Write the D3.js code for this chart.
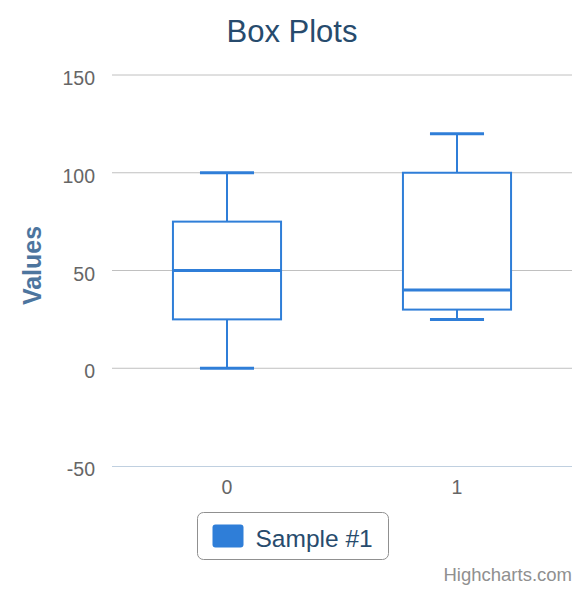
<!DOCTYPE html>
<html>
<head>
<meta charset="utf-8">
<script src="https://cdn.jsdelivr.net/npm/d3@7"></script>
<style>
  body { margin: 0; background: #fff; }
  svg { font-family: "Liberation Sans", Arial, sans-serif; }
</style>
</head>
<body>
<div id="chart"></div>
<script>
const categories = ["0", "1"];
const lows = [0, 25];
const q1s = [25, 30];
const medians = [50, 40];
const q3s = [75, 100];
const highs = [100, 120];
const yTicks = [-50, 0, 50, 100, 150];
const seriesName = "Sample #1";

const width = 581,
height = 592,
margin = { top: 75, right: 9, bottom: 126, left: 112 },
color = "#2f7ed8";

const svg = d3.select('#chart').append('svg')
    .attr('width', width)
    .attr('height', height);

const x = d3.scaleBand()
    .domain(categories)
    .range([margin.left, width - margin.right]);

const y = d3.scaleLinear()
    .domain([-50, 150])
    .range([height - margin.bottom, margin.top]);

// title
svg.append('text')
    .attr('x', 292)
    .attr('y', 42)
    .attr('text-anchor', 'middle')
    .attr('fill', '#274b6d')
    .attr('font-size', '31px')
    .text('Box Plots');

// grid lines
svg.append('g')
    .selectAll('line')
    .data(yTicks.slice(1))
    .enter()
    .append('line')
    .attr('x1', margin.left)
    .attr('x2', width - margin.right)
    .attr('y1', d => y(d))
    .attr('y2', d => y(d))
    .attr('stroke', '#c0c0c0')
    .attr('stroke-width', 1);

// y tick labels
svg.append('g')
    .selectAll('text')
    .data(yTicks)
    .enter()
    .append('text')
    .attr('x', margin.left - 17)
    .attr('y', d => y(d) + 10)
    .attr('text-anchor', 'end')
    .attr('fill', '#666')
    .attr('font-size', '19.5px')
    .text(d => d);

// y axis title
svg.append('text')
    .attr('transform', 'translate(41,' + (y(50) - 5) + ') rotate(-90)')
    .attr('text-anchor', 'middle')
    .attr('fill', '#4d759e')
    .attr('font-weight', 'bold')
    .attr('font-size', '25px')
    .text('Values');

// x axis line and labels
svg.append('line')
    .attr('x1', margin.left)
    .attr('x2', width - margin.right)
    .attr('y1', y(-50) + 0.5)
    .attr('y2', y(-50) + 0.5)
    .attr('stroke', '#c0d0e0');

svg.append('g')
    .selectAll('text')
    .data(categories)
    .enter()
    .append('text')
    .attr('x', d => x(d) + x.bandwidth() / 2)
    .attr('y', y(-50) + 28)
    .attr('text-anchor', 'middle')
    .attr('fill', '#666')
    .attr('font-size', '19.5px')
    .text(d => d);

// boxes
const boxW = x.bandwidth() * 0.47,
capW = boxW / 2;

const boxes = svg.append('g')
    .selectAll('g')
    .data(categories.map((c, i) => ({ c, low: lows[i], q1: q1s[i], med: medians[i], q3: q3s[i], high: highs[i] })))
    .enter()
    .append('g')
    .attr('transform', d => 'translate(' + (x(d.c) + x.bandwidth() / 2) + ',0)');

// stems
boxes.append('line')
    .attr('x1', 0).attr('x2', 0)
    .attr('y1', d => y(d.high)).attr('y2', d => y(d.q3))
    .attr('stroke', color).attr('stroke-width', 2);
boxes.append('line')
    .attr('x1', 0).attr('x2', 0)
    .attr('y1', d => y(d.q1)).attr('y2', d => y(d.low))
    .attr('stroke', color).attr('stroke-width', 2);

boxes.append('rect')
    .attr('x', -boxW / 2)
    .attr('y', d => y(d.q3))
    .attr('width', boxW)
    .attr('height', d => y(d.q1) - y(d.q3))
    .attr('fill', '#fff')
    .attr('stroke', color)
    .attr('stroke-width', 2);

// whisker caps
boxes.selectAll('.cap')
    .data(d => [d.low, d.high])
    .enter()
    .append('line')
    .attr('class', 'cap')
    .attr('x1', -capW / 2).attr('x2', capW / 2)
    .attr('y1', d => y(d)).attr('y2', d => y(d))
    .attr('stroke', color).attr('stroke-width', 3);

// median
boxes.append('line')
    .attr('x1', -boxW / 2).attr('x2', boxW / 2)
    .attr('y1', d => y(d.med)).attr('y2', d => y(d.med))
    .attr('stroke', color).attr('stroke-width', 3);

// legend
const legend = svg.append('g').attr('transform', 'translate(197.5,512.5)');
legend.append('rect')
    .attr('width', 191).attr('height', 47)
    .attr('rx', 6)
    .attr('fill', '#fff')
    .attr('stroke', '#909090');
legend.append('rect')
    .attr('x', 15).attr('y', 12)
    .attr('width', 31).attr('height', 23)
    .attr('rx', 3)
    .attr('fill', color);
legend.append('text')
    .attr('x', 58).attr('y', 34)
    .attr('fill', '#274b6d')
    .attr('font-size', '24.5px')
    .text(seriesName);

// credits
svg.append('text')
    .attr('x', 572)
    .attr('y', 581)
    .attr('text-anchor', 'end')
    .attr('fill', '#909090')
    .attr('font-size', '18.5px')
    .text('Highcharts.com');
</script>
</body>
</html>
